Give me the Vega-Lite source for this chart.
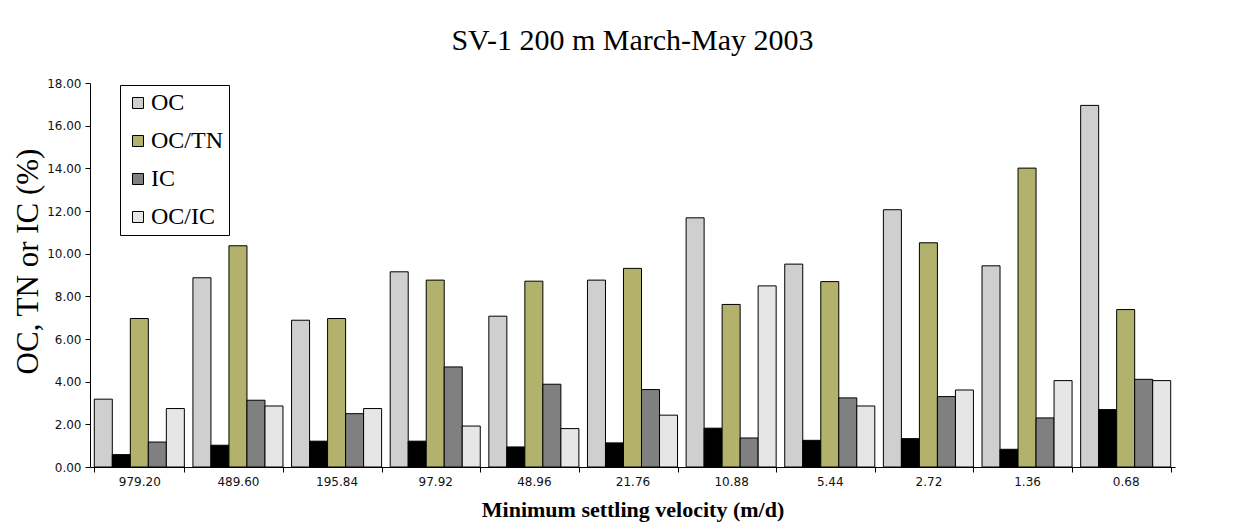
{
  "$schema": "https://vega.github.io/schema/vega-lite/v6.json",
  "autosize": "none",
  "padding": {"left": 90, "top": 83, "right": 80, "bottom": 62},
  "width": 1085,
  "height": 384,
  "background": "white",
  "title": {
    "text": "SV-1 200 m March-May 2003",
    "font": "Liberation Serif",
    "fontSize": 30,
    "fontWeight": "normal",
    "color": "black",
    "anchor": "middle",
    "offset": 21
  },
  "config": {
    "view": {"stroke": null}
  },
  "data": {
    "values": [
      {"v": "979.20", "s": "OC", "y": 3.18},
      {"v": "979.20", "s": "TN", "y": 0.58},
      {"v": "979.20", "s": "OC/TN", "y": 6.96},
      {"v": "979.20", "s": "IC", "y": 1.17},
      {"v": "979.20", "s": "OC/IC", "y": 2.74},
      {"v": "489.60", "s": "OC", "y": 8.87},
      {"v": "489.60", "s": "TN", "y": 1.02},
      {"v": "489.60", "s": "OC/TN", "y": 10.37},
      {"v": "489.60", "s": "IC", "y": 3.13},
      {"v": "489.60", "s": "OC/IC", "y": 2.86},
      {"v": "195.84", "s": "OC", "y": 6.88},
      {"v": "195.84", "s": "TN", "y": 1.21},
      {"v": "195.84", "s": "OC/TN", "y": 6.96},
      {"v": "195.84", "s": "IC", "y": 2.5},
      {"v": "195.84", "s": "OC/IC", "y": 2.74},
      {"v": "97.92", "s": "OC", "y": 9.15},
      {"v": "97.92", "s": "TN", "y": 1.21},
      {"v": "97.92", "s": "OC/TN", "y": 8.76},
      {"v": "97.92", "s": "IC", "y": 4.69},
      {"v": "97.92", "s": "OC/IC", "y": 1.92},
      {"v": "48.96", "s": "OC", "y": 7.07},
      {"v": "48.96", "s": "TN", "y": 0.94},
      {"v": "48.96", "s": "OC/TN", "y": 8.71},
      {"v": "48.96", "s": "IC", "y": 3.88},
      {"v": "48.96", "s": "OC/IC", "y": 1.8},
      {"v": "21.76", "s": "OC", "y": 8.76},
      {"v": "21.76", "s": "TN", "y": 1.13},
      {"v": "21.76", "s": "OC/TN", "y": 9.31},
      {"v": "21.76", "s": "IC", "y": 3.63},
      {"v": "21.76", "s": "OC/IC", "y": 2.43},
      {"v": "10.88", "s": "OC", "y": 11.68},
      {"v": "10.88", "s": "TN", "y": 1.82},
      {"v": "10.88", "s": "OC/TN", "y": 7.62},
      {"v": "10.88", "s": "IC", "y": 1.36},
      {"v": "10.88", "s": "OC/IC", "y": 8.49},
      {"v": "5.44", "s": "OC", "y": 9.51},
      {"v": "5.44", "s": "TN", "y": 1.25},
      {"v": "5.44", "s": "OC/TN", "y": 8.69},
      {"v": "5.44", "s": "IC", "y": 3.24},
      {"v": "5.44", "s": "OC/IC", "y": 2.86},
      {"v": "2.72", "s": "OC", "y": 12.06},
      {"v": "2.72", "s": "TN", "y": 1.33},
      {"v": "2.72", "s": "OC/TN", "y": 10.51},
      {"v": "2.72", "s": "IC", "y": 3.3},
      {"v": "2.72", "s": "OC/IC", "y": 3.61},
      {"v": "1.36", "s": "OC", "y": 9.43},
      {"v": "1.36", "s": "TN", "y": 0.83},
      {"v": "1.36", "s": "OC/TN", "y": 14.01},
      {"v": "1.36", "s": "IC", "y": 2.3},
      {"v": "1.36", "s": "OC/IC", "y": 4.05},
      {"v": "0.68", "s": "OC", "y": 16.95},
      {"v": "0.68", "s": "TN", "y": 2.69},
      {"v": "0.68", "s": "OC/TN", "y": 7.38},
      {"v": "0.68", "s": "IC", "y": 4.11},
      {"v": "0.68", "s": "OC/IC", "y": 4.05}
    ]
  },
  "mark": {"type": "bar", "stroke": "black", "strokeWidth": 1},
  "encoding": {
    "x": {
      "field": "v",
      "type": "nominal",
      "sort": null,
      "scale": {"paddingInner": 0.087, "paddingOuter": 0.0435},
      "axis": {
        "title": "Minimum settling velocity (m/d)",
        "titleFont": "Liberation Serif",
        "titleFontSize": 22,
        "titleFontWeight": "bold",
        "titleColor": "black",
        "titlePadding": 12,
        "labelAngle": 0,
        "labelFont": "DejaVu Sans",
        "labelFontSize": 12,
        "labelColor": "#111111",
        "labelPadding": 4,
        "tickBand": "extent",
        "tickSize": 5,
        "tickColor": "black",
        "domainColor": "black",
        "grid": false
      }
    },
    "xOffset": {
      "field": "s",
      "type": "nominal",
      "sort": ["OC", "TN", "OC/TN", "IC", "OC/IC"],
      "scale": {"paddingInner": 0, "paddingOuter": 0}
    },
    "y": {
      "field": "y",
      "type": "quantitative",
      "scale": {"domain": [0, 18], "nice": false},
      "axis": {
        "title": "OC, TN or IC (%)",
        "titleFont": "Liberation Serif",
        "titleFontSize": 31,
        "titleFontWeight": "normal",
        "titleColor": "black",
        "titlePadding": 2,
        "titleY": 178,
        "values": [0, 2, 4, 6, 8, 10, 12, 14, 16, 18],
        "format": ".2f",
        "labelFont": "DejaVu Sans",
        "labelFontSize": 12,
        "labelColor": "#111111",
        "labelPadding": 4,
        "tickSize": 5,
        "tickColor": "black",
        "domainColor": "black",
        "grid": false
      }
    },
    "color": {
      "field": "s",
      "type": "nominal",
      "scale": {
        "domain": ["OC", "TN", "OC/TN", "IC", "OC/IC"],
        "range": ["#cfcfcf", "#000000", "#b3b26c", "#808080", "#e6e6e6"]
      },
      "legend": {
        "values": ["OC", "OC/TN", "IC", "OC/IC"],
        "title": null,
        "orient": "none",
        "legendX": 30,
        "legendY": 2,
        "strokeColor": "black",
        "fillColor": "white",
        "padding": 6,
        "symbolType": "square",
        "symbolSize": 121,
        "symbolStrokeColor": "black",
        "symbolStrokeWidth": 1,
        "labelFont": "Liberation Serif",
        "labelFontSize": 24,
        "labelColor": "black",
        "labelOffset": 1,
        "rowPadding": 14
      }
    }
  }
}
